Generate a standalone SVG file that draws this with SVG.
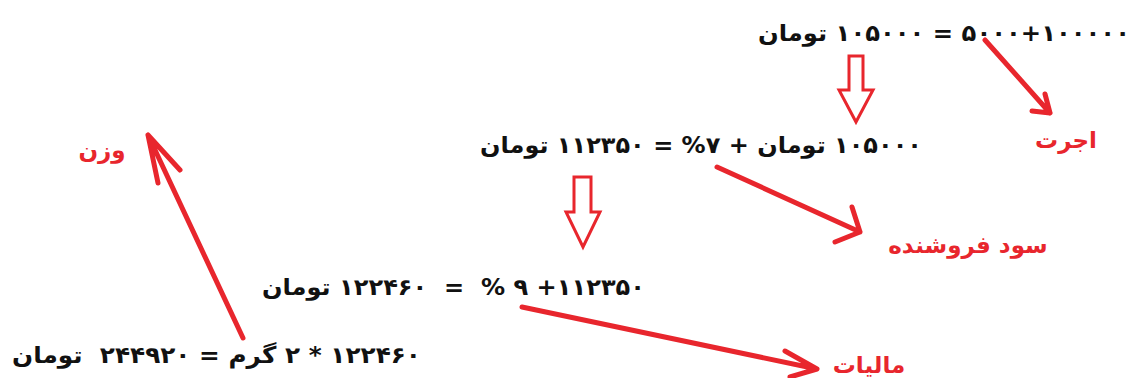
<svg xmlns="http://www.w3.org/2000/svg" width="1133" height="378" viewBox="0 0 1133 378">
<defs>
<style>
.eq{font-family:"DejaVu Sans",sans-serif;font-weight:bold;font-size:23px;fill:#111;white-space:pre;direction:ltr}
.lbl{font-family:"DejaVu Sans",sans-serif;font-weight:bold;font-size:23px;fill:#e8262d;text-anchor:middle}
.ln{fill:none;stroke:#e8262d;stroke-width:5;stroke-linecap:round;stroke-linejoin:round}
.hollow{fill:#fff;stroke:#e8262d;stroke-width:3;stroke-linejoin:miter}
</style>
</defs>
<rect width="1133" height="378" fill="#fff"/>
<g id="eq1"><text class="eq" x="758" y="41" textLength="372" lengthAdjust="spacingAndGlyphs">تومان&#x200E; ۱۰۵۰۰۰ = ۵۰۰۰+۱۰۰۰۰۰</text></g>
<g id="eq2"><text class="eq" x="480" y="153" textLength="442" lengthAdjust="spacingAndGlyphs">تومان&#x200E; ۱۱۲۳۵۰ = %۷ + تومان&#x200E; ۱۰۵۰۰۰</text></g>
<g id="eq3"><text class="eq" x="262" y="295" textLength="383" lengthAdjust="spacingAndGlyphs">تومان&#x200E; ۱۲۲۴۶۰  =  % ۹ +۱۱۲۳۵۰</text></g>
<g id="eq4"><text class="eq" x="12" y="363" textLength="409" lengthAdjust="spacingAndGlyphs">تومان&#x200E;  ۲۴۴۹۲۰ = گرم&#x200E; ۲ * ۱۲۲۴۶۰</text></g>
<g id="lbl-ojrat"><text class="lbl" x="1066" y="148">اجرت</text></g>
<g id="lbl-vazn"><text class="lbl" x="102" y="158">وزن</text></g>
<g id="lbl-sood"><text class="lbl" x="968" y="253">سود فروشنده</text></g>
<g id="lbl-maliat"><text class="lbl" x="869" y="373">مالیات</text></g>
<g id="connectors">
<path class="ln" d="M985 40 L1050 113 M1045 94 L1050 113 L1032 111"/>
<path class="ln" d="M717 167 L860 232 M852 207 L860 232 L835 242"/>
<path class="ln" d="M522 307 L817 369 M785 351 L817 369 L790 377"/>
<path class="ln" d="M243 338 L148 135 M180 170 L148 135 L158 183"/>
<path class="hollow" d="M849 56 H863 V90 H873 L856 122 L839 90 H849 Z"/>
<path class="hollow" d="M574 177 H591 V212 H600 L583 247 L566 212 H574 Z"/>
</g>
</svg>
